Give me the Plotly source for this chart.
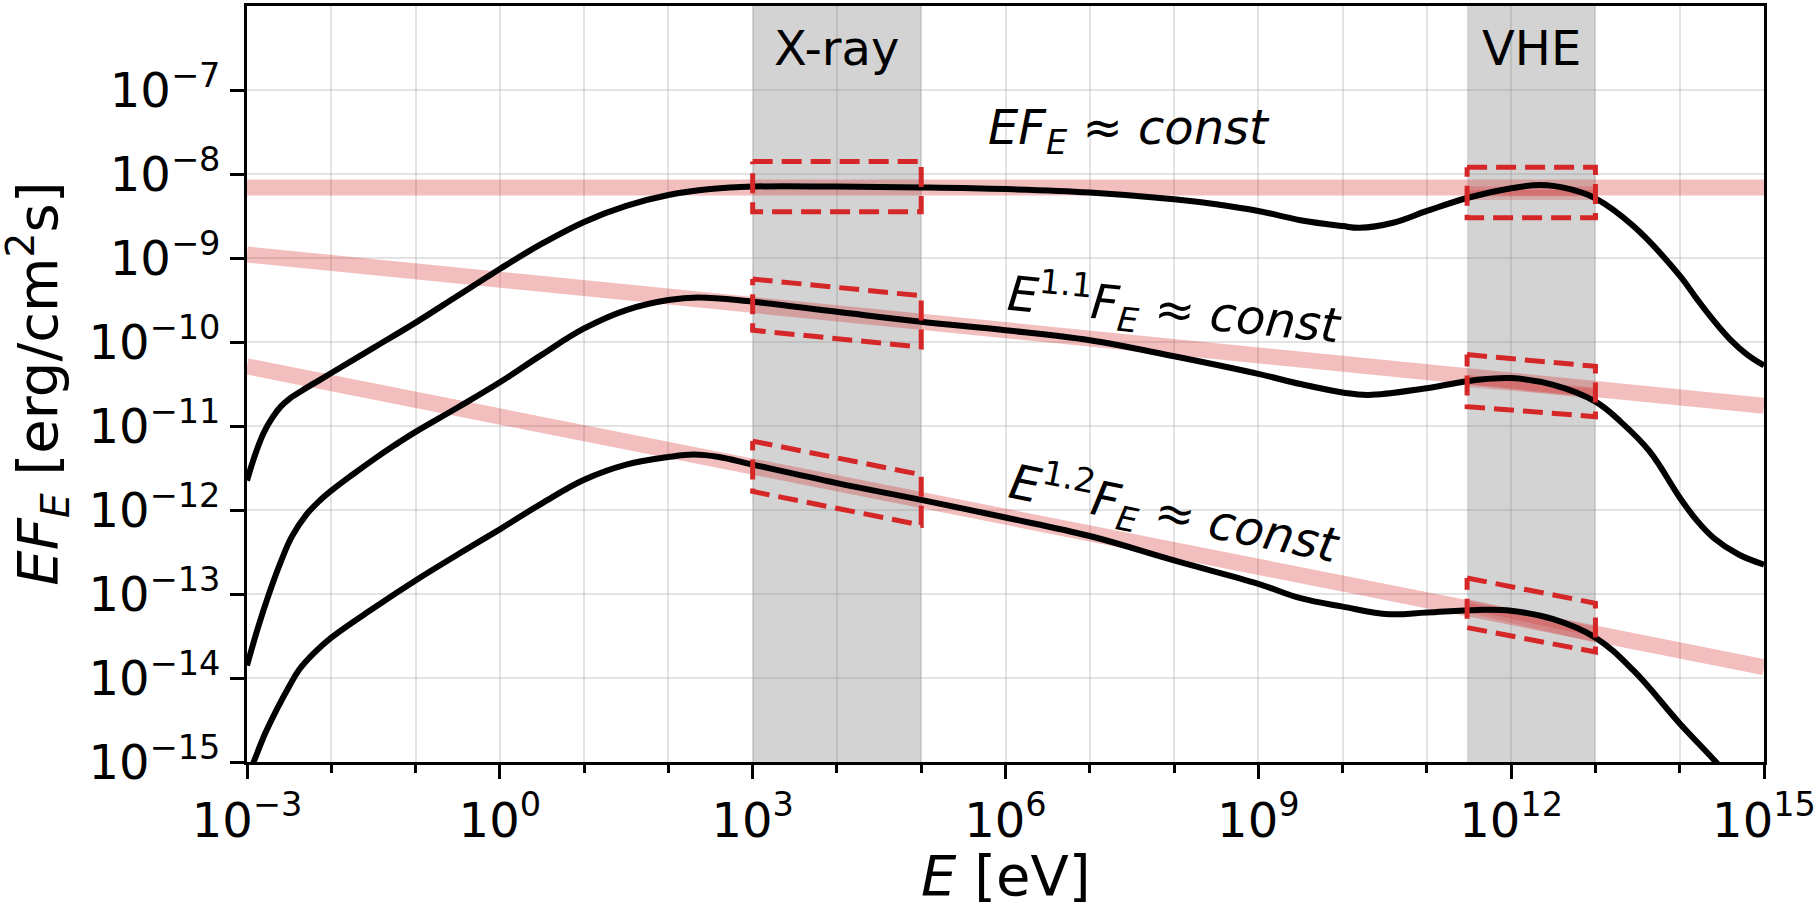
import plotly.graph_objects as go

# ---- energy bands (eV) ----
xray_band = [1e3, 1e5]
vhe_band = [3e11, 1e13]

# ---- model SEDs: E [eV] and E F_E [erg/cm^2/s] ----
sed1_E = [1e-3, 1.26e-3, 1.58e-3, 2.0e-3, 2.51e-3, 3.16e-3, 4.47e-3, 6.31e-3, 1e-2, 3.16e-2,
          0.1, 0.316, 1, 3.16, 10, 31.6, 100, 316, 1e3, 1e4, 1e5, 1e6, 1e7, 1e8, 3.16e8, 1e9,
          3.16e9, 1e10, 1.58e10, 3.98e10, 1e11, 3.16e11, 1e12, 2.24e12, 5.01e12, 1e13,
          2.82e13, 1e14, 1.58e14, 2.51e14, 3.98e14, 6.31e14, 1e15]
sed1_F = [2.24e-12, 4.68e-12, 8.32e-12, 1.26e-11, 1.70e-11, 2.09e-11, 2.63e-11, 3.24e-11,
          4.27e-11, 8.51e-11, 1.70e-10, 3.55e-10, 7.41e-10, 1.48e-9, 2.69e-9, 4.17e-9,
          5.62e-9, 6.61e-9, 7.08e-9, 7.08e-9, 6.92e-9, 6.61e-9, 6.03e-9, 5.01e-9, 4.37e-9,
          3.63e-9, 2.82e-9, 2.40e-9, 2.29e-9, 2.63e-9, 3.63e-9, 5.25e-9, 6.76e-9, 7.41e-9,
          6.61e-9, 5.13e-9, 2.40e-9, 6.17e-10, 3.31e-10, 1.82e-10, 1.07e-10, 7.08e-11,
          5.25e-11]

sed2_E = [1e-3, 1.35e-3, 1.82e-3, 2.51e-3, 3.39e-3, 5.01e-3, 7.08e-3, 1e-2, 1.78e-2, 3.16e-2,
          5.62e-2, 0.1, 0.316, 1, 3.16, 10, 31.6, 100, 224, 1e3, 1e4, 1e5, 1e6, 1e7, 1e8, 1e9,
          3.16e9, 1e10, 2e10, 1e11, 3.98e11, 1e12, 3.16e12, 1e13, 2e13, 4.37e13, 1e14,
          1.58e14, 2.51e14, 5.01e14, 1e15]
sed2_F = [1.41e-14, 3.98e-14, 1.0e-13, 2.40e-13, 4.79e-13, 8.71e-13, 1.26e-12, 1.70e-12,
          2.63e-12, 3.98e-12, 5.89e-12, 8.51e-12, 1.66e-11, 3.31e-11, 7.08e-11, 1.45e-10,
          2.40e-10, 3.16e-10, 3.39e-10, 3.02e-10, 2.29e-10, 1.74e-10, 1.38e-10, 1.05e-10,
          6.76e-11, 4.17e-11, 3.16e-11, 2.51e-11, 2.34e-11, 2.82e-11, 3.55e-11, 3.72e-11,
          3.09e-11, 1.95e-11, 1.12e-11, 5.01e-12, 1.41e-12, 7.59e-13, 4.68e-13, 2.95e-13,
          2.24e-13]

sed3_E = [1e-3, 1.20e-3, 1.66e-3, 2.24e-3, 3.16e-3, 4.17e-3, 6.31e-3, 1e-2, 3.16e-2, 0.1,
          0.316, 1, 3.16, 10, 31.6, 100, 200, 398, 1e3, 1e4, 1e5, 1e6, 1e7, 1e8, 1e9, 3.16e9,
          1e10, 3.55e10, 1e11, 3.98e11, 1e12, 3.16e12, 1e13, 2.82e13, 1e14, 2.69e14, 3.98e14]
sed3_F = [6.31e-16, 1e-15, 2.24e-15, 4.17e-15, 7.94e-15, 1.26e-14, 2.0e-14, 3.02e-14,
          6.76e-14, 1.45e-13, 2.95e-13, 5.89e-13, 1.20e-12, 2.29e-12, 3.47e-12, 4.27e-12,
          4.57e-12, 4.27e-12, 3.47e-12, 2.09e-12, 1.32e-12, 8.13e-13, 4.90e-13, 2.51e-13,
          1.32e-13, 8.91e-14, 7.08e-14, 5.75e-14, 6.03e-14, 6.46e-14, 6.31e-14, 5.01e-14,
          3.02e-14, 1.23e-14, 2.88e-15, 1e-15, 6.31e-16]

# ---- power-law guide lines E^a F_E = const ----
guide_E = [1e-3, 1e15]
guide_a0 = [6.9e-9, 6.9e-9]
guide_a11 = [1.10e-9, 1.74e-11]
guide_a12 = [5.13e-11, 1.35e-14]

# ---- extra fit segments across the VHE band ----
vhe_fits = [
    [6.17e-9, 6.17e-9], [5.62e-9, 5.62e-9],
    [3.55e-11, 2.40e-11], [3.31e-11, 2.51e-11],
    [7.59e-14, 3.55e-14], [6.92e-14, 3.02e-14],
]

# ---- dashed windows: [top-left, top-right, bottom-right, bottom-left] ----
win_xray = [
    [1.41e-8, 1.41e-8, 3.55e-9, 3.55e-9],
    [5.62e-10, 3.55e-10, 8.71e-11, 1.38e-10],
    [6.61e-12, 2.63e-12, 6.61e-13, 1.66e-12],
]
win_vhe = [
    [1.20e-8, 1.20e-8, 3.02e-9, 3.02e-9],
    [7.08e-11, 5.13e-11, 1.29e-11, 1.70e-11],
    [1.55e-13, 7.76e-14, 2.04e-14, 3.98e-14],
]

# ---- axis ticks ----
x_major = [1e-3, 1e0, 1e3, 1e6, 1e9, 1e12, 1e15]
x_major_text = ["10<sup>\u22123</sup>", "10<sup>0</sup>", "10<sup>3</sup>", "10<sup>6</sup>",
                "10<sup>9</sup>", "10<sup>12</sup>", "10<sup>15</sup>"]
x_minor = [1e-2, 1e-1, 1e1, 1e2, 1e4, 1e5, 1e7, 1e8, 1e10, 1e11, 1e13, 1e14]
y_major = [1e-15, 1e-14, 1e-13, 1e-12, 1e-11, 1e-10, 1e-9, 1e-8, 1e-7]
y_major_text = ["10<sup>\u221215</sup>", "10<sup>\u221214</sup>", "10<sup>\u221213</sup>",
                "10<sup>\u221212</sup>", "10<sup>\u221211</sup>", "10<sup>\u221210</sup>",
                "10<sup>\u22129</sup>", "10<sup>\u22128</sup>", "10<sup>\u22127</sup>"]

FONT = "DejaVu Sans"
RED = "#d62728"
PINK = "rgba(214,39,40,0.3)"
GRID = "rgba(176,176,176,0.35)"

fig = go.Figure()

# shaded observation bands
for lo, hi in (xray_band, vhe_band):
    fig.add_trace(go.Scatter(
        x=[lo, hi, hi, lo, lo], y=[1e-20, 1e-20, 1e0, 1e0, 1e-20],
        mode="lines", fill="toself", fillcolor="rgba(128,128,128,0.345)",
        line=dict(width=0), hoverinfo="skip", showlegend=False))

# guide lines
for gy in (guide_a0, guide_a11, guide_a12):
    fig.add_trace(go.Scatter(x=guide_E, y=gy, mode="lines",
                             line=dict(color=PINK, width=16), showlegend=False))

for fy in vhe_fits:
    fig.add_trace(go.Scatter(x=vhe_band, y=fy, mode="lines",
                             line=dict(color="rgba(214,39,40,0.22)", width=10),
                             showlegend=False))

# model spectra
for ex, fy in ((sed1_E, sed1_F), (sed2_E, sed2_F), (sed3_E, sed3_F)):
    fig.add_trace(go.Scatter(x=ex, y=fy, mode="lines",
                             line=dict(color="black", width=6, shape="spline", smoothing=1.1),
                             showlegend=False))

# dashed windows
for band, wins in ((xray_band, win_xray), (vhe_band, win_vhe)):
    lo, hi = band
    for tl, tr, br, bl in wins:
        fig.add_trace(go.Scatter(
            x=[lo, hi, hi, lo, lo], y=[tl, tr, br, bl, tl], mode="lines",
            line=dict(color=RED, width=5, dash="20px,9px"), showlegend=False))

ann_font = dict(family=FONT, size=48, color="black")
annotations = [
    dict(x=4, y=-6.50, text="X-ray", showarrow=False, font=ann_font,
         xanchor="center", yanchor="middle"),
    dict(x=12.24, y=-6.50, text="VHE", showarrow=False, font=ann_font,
         xanchor="center", yanchor="middle"),
    dict(x=7.46, y=-7.48, text="<i>EF</i><sub><i>E</i></sub> \u2248 <i>const</i>",
         showarrow=False, font=ann_font, xanchor="center", yanchor="middle"),
    dict(x=8.0, y=-9.61,
         text="<i>E</i><sup>1.1</sup><i>F</i><sub><i>E</i></sub> \u2248 <i>const</i>",
         showarrow=False, font=ann_font, xanchor="center", yanchor="middle", textangle=5.7),
    dict(x=8.0, y=-12.04,
         text="<i>E</i><sup>1.2</sup><i>F</i><sub><i>E</i></sub> \u2248 <i>const</i>",
         showarrow=False, font=ann_font, xanchor="center", yanchor="middle", textangle=11.3),
    dict(x=0.5, y=-0.150, xref="paper", yref="paper", text="<i>E</i> [eV]",
         showarrow=False, font=dict(family=FONT, size=56, color="black"),
         xanchor="center", yanchor="middle", borderpad=0),
    dict(x=-0.138, y=0.5, xref="paper", yref="paper",
         text="<i>EF</i><sub><i>E</i></sub> [erg/cm<sup>2</sup>s]",
         showarrow=False, font=dict(family=FONT, size=56, color="black"),
         xanchor="center", yanchor="middle", textangle=-90, borderpad=0),
]

axis_common = dict(
    type="log", showline=True, linecolor="black", linewidth=3, mirror=True,
    ticks="outside", ticklen=14, tickwidth=3, tickcolor="black",
    tickfont=dict(family=FONT, size=48, color="black"),
    showgrid=True, gridcolor=GRID, gridwidth=2, zeroline=False,
)

fig.update_layout(
    width=1819, height=908, autosize=False,
    margin=dict(l=247, r=54, t=3, b=146),
    paper_bgcolor="white", plot_bgcolor="white",
    font=dict(family=FONT, color="black"),
    xaxis=dict(range=[-3, 15], tickmode="array", tickvals=x_major, ticktext=x_major_text,
               minor=dict(tickmode="array", tickvals=x_minor, ticks="outside", ticklen=8,
                          tickwidth=2.5, tickcolor="black", showgrid=True,
                          gridcolor=GRID, gridwidth=2),
               **axis_common),
    yaxis=dict(range=[-15, -6.0], tickmode="array", tickvals=y_major, ticktext=y_major_text,
               **axis_common),
    annotations=annotations,
    showlegend=False,
)

fig.write_html("out.html")
